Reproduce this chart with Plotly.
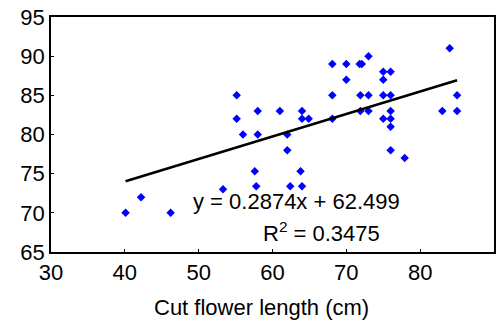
import plotly.graph_objects as go

# Cut flower length (cm)
length = [40.1, 42.2, 46.2, 53.3, 55.15, 55.15, 56.0, 57.6, 57.8, 58.0,
          58.0, 61.0, 62.0, 62.0, 62.4, 63.8, 64.0, 64.0, 64.0, 64.9,
          68.1, 68.1, 68.1, 70.0, 70.0, 71.8, 72.1, 71.9, 71.9, 73.0,
          73.0, 73.0, 75.0, 75.0, 75.0, 75.0, 76.0, 76.0, 76.0, 76.0,
          76.0, 76.0, 77.9, 83.0, 84.0, 85.0, 85.0]
# Response variable
value = [70, 72, 70, 73, 85, 82, 80, 75.3, 73.4, 83,
         80, 83, 80, 78, 73.4, 75.3, 73.4, 83, 82, 82,
         89, 85, 82, 89, 87, 89, 89, 85, 83, 90,
         85, 83, 88, 87, 85, 82, 88, 85, 83, 82,
         81, 78, 77, 83, 91, 85, 83]

slope = 0.2874
intercept = 62.499
r2 = 0.3475

x_ticks = [30, 40, 50, 60, 70, 80, 90]
y_ticks = [65, 70, 75, 80, 85, 90, 95]
x_title = "Cut flower length (cm)"

FONT = "Liberation Sans, Arial, sans-serif"
FS = 22

fig = go.Figure()
fig.add_trace(go.Scatter(
    x=length, y=value, mode="markers",
    marker=dict(symbol="diamond", color="#0000FF", size=6.5, line=dict(width=0)),
    showlegend=False, hoverinfo="skip"))

xmin, xmax = min(length), max(length)
fig.add_trace(go.Scatter(
    x=[xmin, xmax], y=[slope * xmin + intercept, slope * xmax + intercept],
    mode="lines", line=dict(color="black", width=2.5),
    showlegend=False, hoverinfo="skip"))

fig.add_annotation(x=49.0, y=71.45, xref="x", yref="y", xanchor="left", yanchor="middle",
                   text=f"y = {slope}x + {intercept}", showarrow=False,
                   font=dict(family=FONT, size=FS, color="black"))
fig.add_annotation(x=58.4, y=67.6, xref="x", yref="y", xanchor="left", yanchor="middle",
                   text=f"R<sup>2</sup> = {r2}", showarrow=False,
                   font=dict(family=FONT, size=FS, color="black"))
fig.add_annotation(x=0.476, y=-0.236, xref="paper", yref="paper", xanchor="center", yanchor="middle",
                   text=x_title, showarrow=False,
                   font=dict(family=FONT, size=FS, color="black"))

axis_common = dict(showgrid=False, zeroline=False, showline=True, mirror=True,
                   linecolor="black", linewidth=1.5, ticks="inside", ticklen=3,
                   tickcolor="black", tickwidth=1,
                   tickfont=dict(family=FONT, size=FS, color="black"))

fig.update_xaxes(range=[30, 90], tickvals=x_ticks, **axis_common)
fig.update_yaxes(range=[65, 95], tickvals=y_ticks, **axis_common)

fig.update_layout(width=501, height=325, margin=dict(l=51, r=5, t=13, b=73),
                  paper_bgcolor="white", plot_bgcolor="white",
                  font=dict(family=FONT, color="black"))

fig.write_html("out.html")
